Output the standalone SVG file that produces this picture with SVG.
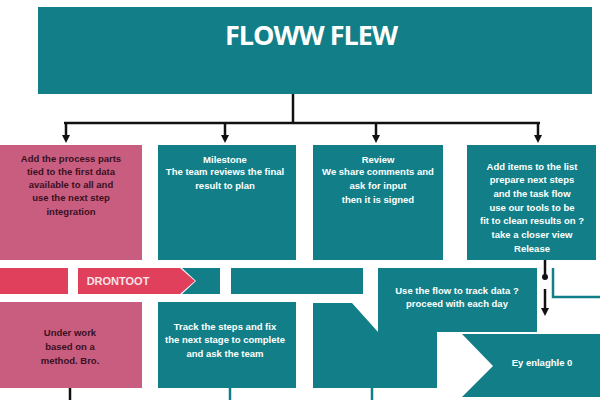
<svg xmlns="http://www.w3.org/2000/svg" width="600" height="400" viewBox="0 0 600 400">
  <defs>
    <style>
      .teal { fill: #127f88; }
      .pink { fill: #c95d80; }
      .red { fill: #e0405b; }
      .wire { stroke: #111; stroke-width: 2.5; fill: none; }
      .twire { stroke: #127f88; stroke-width: 2.5; fill: none; }
      .title { font-family: "Open Sans", "Liberation Sans", sans-serif; font-weight: bold; font-size: 27px; fill: #fff; letter-spacing: -1px; }
      .lt { font-family: "Liberation Sans", "DejaVu Sans", sans-serif; font-weight: bold; font-size: 9.5px; fill: #fff; text-anchor: middle; }
      .dk { font-family: "Liberation Sans", "DejaVu Sans", sans-serif; font-weight: bold; font-size: 9.5px; fill: #3a1020; text-anchor: middle; }
    </style>
    <marker id="arrow" markerWidth="8" markerHeight="8" refX="4" refY="4" orient="auto" markerUnits="userSpaceOnUse">
      <path d="M0,0 L8,4 L0,8 Z" fill="#111"/>
    </marker>
  </defs>
  <rect width="600" height="400" fill="#fff"/>

  <!-- title block -->
  <g id="title">
    <rect class="teal" x="38" y="7" width="554" height="87"/>
    <text class="title" x="311" y="45" text-anchor="middle">FLOWW FLEW</text>
  </g>

  <!-- connectors -->
  <g id="connectors">
    <path class="wire" d="M293,94 V123 M64,123 H540"/>
    <path class="wire" d="M66,123 V139" marker-end="url(#arrow)"/>
    <path class="wire" d="M225,123 V139" marker-end="url(#arrow)"/>
    <path class="wire" d="M376,123 V139" marker-end="url(#arrow)"/>
    <path class="wire" d="M538,123 V139" marker-end="url(#arrow)"/>
    <path class="wire" d="M545,260 V276"/>
    <circle cx="545" cy="277" r="3" fill="#111"/>
    <path class="wire" d="M545,289 V312" marker-end="url(#arrow)"/>
    <path class="twire" d="M553,268 V297 H600"/>
    <path class="wire" d="M70,388 V400"/>
    <path class="twire" d="M230,388 V400"/>
    <path class="twire" d="M372,388 V400"/>
  </g>

  <!-- first row -->
  <g id="node-a">
    <rect class="pink" x="0" y="145" width="142" height="115"/>
    <text class="dk" x="71" y="162">Add the process parts</text>
    <text class="dk" x="71" y="175">tied to the first data</text>
    <text class="dk" x="71" y="188">available to all and</text>
    <text class="dk" x="71" y="201">use the next step</text>
    <text class="dk" x="71" y="215">integration</text>
  </g>
  <g id="node-b">
    <rect class="teal" x="158" y="145" width="138" height="115"/>
    <text class="lt" x="225" y="163">Milestone</text>
    <text class="lt" x="225" y="175">The team reviews the final</text>
    <text class="lt" x="225" y="189">result to plan</text>
  </g>
  <g id="node-c">
    <rect class="teal" x="313" y="145" width="130" height="115"/>
    <text class="lt" x="378" y="163">Review</text>
    <text class="lt" x="378" y="175">We share comments and</text>
    <text class="lt" x="378" y="189">ask for input</text>
    <text class="lt" x="378" y="203">then it is signed</text>
  </g>
  <g id="node-d">
    <rect class="teal" x="467" y="145" width="129" height="115"/>
    <text class="lt" x="532" y="170">Add items to the list</text>
    <text class="lt" x="532" y="183">prepare next steps</text>
    <text class="lt" x="532" y="197">and the task flow</text>
    <text class="lt" x="532" y="211">use our tools to be</text>
    <text class="lt" x="532" y="224">fit to clean results on ?</text>
    <text class="lt" x="532" y="238">take a closer view</text>
    <text class="lt" x="532" y="252">Release</text>
  </g>

  <!-- middle strip -->
  <g id="strip-a">
    <rect class="red" x="0" y="268" width="68" height="26"/>
  </g>
  <g id="strip-b">
    <path class="red" d="M78,268 H180 L195,281 L180,294 H78 Z"/>
    <text x="118" y="285" font-family="Liberation Sans, sans-serif" font-weight="bold" font-size="11" fill="#f6e4e8" text-anchor="middle">DRONTOOT</text>
  </g>
  <g id="strip-c">
    <path class="teal" d="M182,268 H220 V294 H182 L196,281 Z"/>
  </g>
  <g id="strip-d">
    <rect class="teal" x="231" y="268" width="132" height="26"/>
  </g>
  <g id="node-e">
    <rect class="teal" x="378" y="268" width="159" height="64"/>
    <text class="lt" x="457" y="294">Use the flow to track data ?</text>
    <text class="lt" x="457" y="307">proceed with each day</text>
  </g>

  <!-- bottom row -->
  <g id="node-f">
    <rect class="pink" x="0" y="302" width="142" height="86"/>
    <text class="dk" x="70" y="336">Under work</text>
    <text class="dk" x="70" y="350">based on a</text>
    <text class="dk" x="70" y="364">method. Bro.</text>
  </g>
  <g id="node-g">
    <rect class="teal" x="158" y="302" width="138" height="86"/>
    <text class="lt" x="225" y="330">Track the steps and fix</text>
    <text class="lt" x="225" y="343">the next stage to complete</text>
    <text class="lt" x="225" y="357">and ask the team</text>
  </g>
  <g id="node-h">
    <path class="teal" d="M313,303 H352 L378,332 H437 V388 H313 Z"/>
  </g>
  <g id="node-i">
    <path class="teal" d="M462,334 H600 V397 H462 L493,366 Z"/>
    <text class="lt" x="542" y="366">Ey enlaghle 0</text>
  </g>
</svg>
